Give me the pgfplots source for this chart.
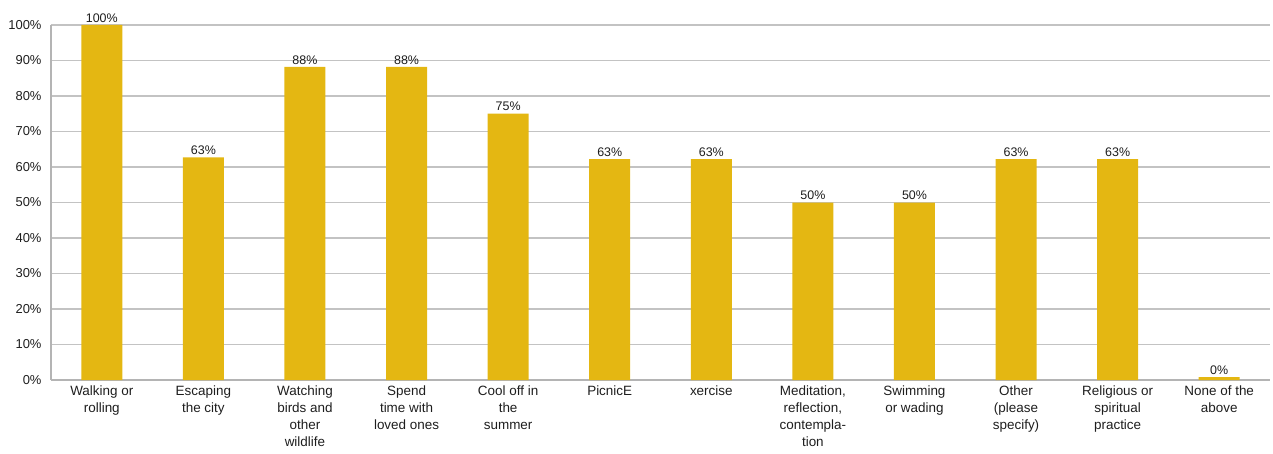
\documentclass[border=0pt]{standalone}
\usepackage{pgfplots}
\pgfplotsset{compat=1.18}
\usepackage{pgfplotstable}
\usepackage{fontspec}
\setmainfont{Liberation Sans}
\definecolor{barc}{RGB}{228,183,18}
\definecolor{gridc}{RGB}{195,195,195}
\definecolor{axc}{RGB}{180,180,180}
\definecolor{txt}{RGB}{30,30,30}
\pgfplotstableread{
x y lab
0 100 100
1 62.7 63
2 88.2 88
3 88.2 88
4 75 75
5 62.2 63
6 62.2 63
7 50 50
8 50 50
9 62.2 63
10 62.2 63
11 0.8 0
}\data
\begin{document}
\begin{tikzpicture}
\begin{axis}[
  scale only axis, width=1219bp, height=355bp,
  xmin=-0.5, xmax=11.5, ymin=0, ymax=100,
  axis x line=bottom, axis y line=left,
  axis line style={draw=axc, line width=1.4bp, -},
  ytick={0,10,...,100},
  yticklabel={\pgfmathprintnumber[assume math mode=true]{\tick}\%},
  yticklabel style={font=\fontsize{13}{15}\selectfont, text=txt, xshift=-6bp},
  ymajorgrids, major grid style={draw=gridc, line width=1.3bp},
  major tick length=0,
  xtick={0,...,11},
  xticklabels={{Walking or\\rolling},{Escaping\\the city},{Watching\\birds and\\other\\wildlife},{Spend\\time with\\loved ones},{Cool off in\\the\\summer},{PicnicE},{xercise},{Meditation,\\reflection,\\contempla-\\tion},{Swimming\\or wading},{Other\\(please\\specify)},{Religious or\\spiritual\\practice},{None of the\\above}},
  xticklabel style={align=center, font=\fontsize{13.5}{17}\selectfont, text=txt, anchor=north, yshift=-2bp},
  clip=false,
]
\addplot[ybar, bar width=41bp, fill=barc, draw=none,
  point meta=explicit symbolic,
  nodes near coords={\pgfplotspointmeta\%},
  every node near coord/.append style={font=\fontsize{12.5}{15}\selectfont, text=txt, inner sep=2.5bp}]
  table[x=x, y=y, meta=lab]{\data};
\path (rel axis cs:0,0) ++(-51bp,-73bp) coordinate (bl);
\path (rel axis cs:1,1) ++(3bp,25bp) coordinate (tr);
\end{axis}
\pgfresetboundingbox
\useasboundingbox (bl) rectangle (tr);
\end{tikzpicture}
\end{document}
